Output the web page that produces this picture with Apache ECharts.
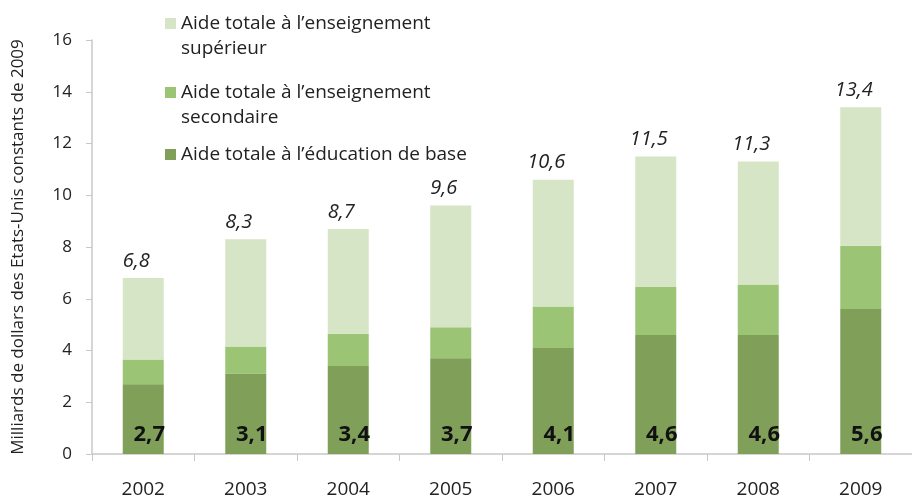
<!DOCTYPE html>
<html>
<head>
<meta charset="utf-8">
<script src="https://cdn.jsdelivr.net/npm/echarts@6/dist/echarts.min.js"></script>
<style>
  html, body { margin: 0; padding: 0; background: #fff; }
  #chart { width: 912px; height: 499px; }
</style>
</head>
<body>
<div id="chart"></div>
<script>
const years = ['2002', '2003', '2004', '2005', '2006', '2007', '2008', '2009']
// aide à l'éducation de base
const base = [2.7, 3.1, 3.4, 3.7, 4.1, 4.6, 4.6, 5.6]
// aide à l'enseignement secondaire
const secondaire = [0.95, 1.05, 1.25, 1.2, 1.6, 1.85, 1.95, 2.45]
// aide à l'enseignement supérieur
const superieur = [3.15, 4.15, 4.05, 4.7, 4.9, 5.05, 4.75, 5.35]
const totals = ['6,8', '8,3', '8,7', '9,6', '10,6', '11,5', '11,3', '13,4']
const baseLabels = ['2,7', '3,1', '3,4', '3,7', '4,1', '4,6', '4,6', '5,6']

const nomBase = 'Aide totale à l’éducation de base'
const nomSec = 'Aide totale à l’enseignement secondaire'
const nomSup = 'Aide totale à l’enseignement supérieur'

const font = '"Open Sans", "Noto Sans", sans-serif'
const chart = echarts.init(document.getElementById('chart'))

// une légende par entrée pour garder l'icône sur la première ligne
function legende(nom, top, texte) {
  return {
    orient: 'vertical',
    left: 165,
    top: top,
    padding: 0,
    itemWidth: 11,
    itemHeight: 11,
    icon: 'rect',
    selectedMode: false,
    data: [nom],
    formatter: () => texte,
    textStyle: { fontSize: 19, color: '#222', lineHeight: 25 }
  }
}

chart.setOption({
  animation: false,
  color: ['#80a05a', '#9cc475', '#d6e5c6'],
  textStyle: { fontFamily: font },
  legend: [
    legende(nomSup, -14, '\nAide totale à l’enseignement\nsupérieur'),
    legende(nomSec, 55, '\nAide totale à l’enseignement\nsecondaire'),
    legende(nomBase, 142, 'Aide totale à l’éducation de base')
  ],
  grid: {
    left: 92,
    top: 40,
    bottom: 45,
    width: 836
  },
  xAxis: {
    type: 'category',
    data: years,
    axisLine: { lineStyle: { color: '#c8c8c8', width: 1.5 } },
    axisTick: { show: true, length: 7, lineStyle: { color: '#c8c8c8' } },
    axisLabel: { color: '#222', fontSize: 19, margin: 26 }
  },
  yAxis: {
    type: 'value',
    min: 0,
    max: 16,
    interval: 2,
    name: 'Milliards de dollars des Etats-Unis constants de 2009',
    nameLocation: 'middle',
    nameGap: 65,
    nameTextStyle: { color: '#222', fontSize: 17 },
    axisLine: { show: true, lineStyle: { color: '#c8c8c8', width: 1.5 } },
    axisTick: { show: true, length: 6, lineStyle: { color: '#c8c8c8' } },
    splitLine: { show: false },
    axisLabel: { color: '#222', fontSize: 17, margin: 20 }
  },
  series: [
    {
      name: nomBase,
      type: 'bar',
      stack: 'total',
      barWidth: '40%',
      data: base,
      z: 3,
      label: {
        show: true,
        position: 'insideBottom',
        distance: 8,
        offset: [6, 0],
        formatter: p => baseLabels[p.dataIndex],
        color: '#111',
        fontSize: 22,
        fontWeight: 'bold'
      }
    },
    {
      name: nomSec,
      type: 'bar',
      stack: 'total',
      data: secondaire
    },
    {
      name: nomSup,
      type: 'bar',
      stack: 'total',
      data: superieur,
      label: {
        show: true,
        position: 'top',
        distance: 7,
        offset: [-7, 0],
        formatter: p => totals[p.dataIndex],
        color: '#222',
        fontSize: 20,
        fontStyle: 'italic'
      }
    }
  ]
})
</script>
</body>
</html>
